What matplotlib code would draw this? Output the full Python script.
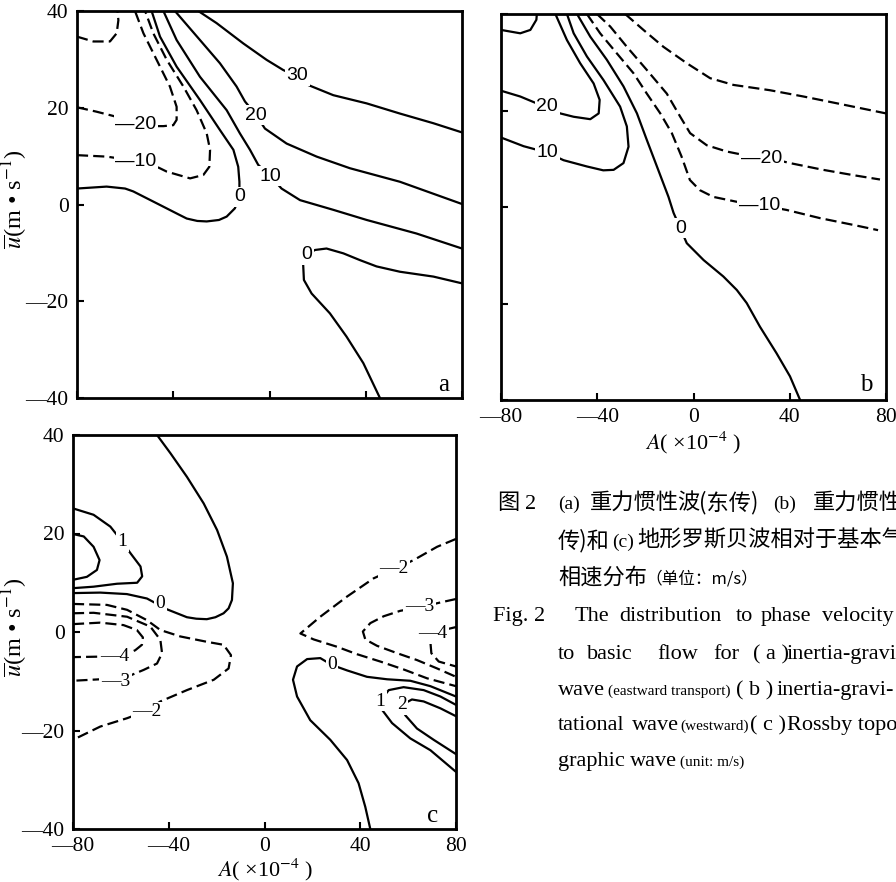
import matplotlib
matplotlib.use("Agg")
import matplotlib.pyplot as plt

W, H = 896, 882

# ---------------- data ----------------
A_TICKS = [-80, -40, 0, 40, 80]
U_TICKS = [-40, -20, 0, 20, 40]
A_TICKLABELS = ['—80', '—40', '0', '40', '80']
U_TICKLABELS = ['—40', '—20', '0', '20', '40']

# panel a : (A, u) points along each isoline
a_m30 = [(-80, 34.7), (-73.2, 33.7), (-66.3, 33.7), (-63.5, 35.4), (-62.8, 38.1), (-63.2, 40)]
a_m20 = [(-80, 20.1), (-72, 19.2), (-64.9, 18.3), (-58, 17.2), (-52.4, 16.6), (-47, 16.2),
         (-44.1, 16.2), (-40, 16.4), (-38.6, 17.5), (-38.6, 20.2), (-41.4, 24.4),
         (-46.9, 29.9), (-52.4, 35.4), (-55.9, 40)]
a_m10 = [(-80, 10.2), (-67.7, 9.9), (-58, 9.2), (-52.4, 8.6), (-46, 7.6), (-42.7, 6.8),
         (-33.0, 5.4), (-27.5, 6.1), (-25.0, 7.8), (-24.7, 11.3), (-26.1, 14.7),
         (-30.3, 19.5), (-35.8, 24.4), (-42.7, 29.9), (-48.3, 35.4), (-51.7, 40)]
a_0a = [(-80, 3.3), (-67.7, 3.7), (-60, 3.3), (-56.6, 2.7), (-45.5, -0.1), (-38, -2.0),
        (-34.4, -2.9), (-30, -3.4), (-26.1, -3.5), (-21, -3.2), (-17.8, -2.5), (-14.4, -0.8),
        (-12.5, 1.6), (-12.5, 4.7), (-13.0, 7.8), (-15.0, 11.3),
        (-20.6, 15.4), (-28.9, 21.6), (-38.6, 28.5), (-45.5, 34.7), (-49.0, 40)]
a_0b = [(80, -16.3), (68.1, -14.9), (54.2, -13.9), (44.5, -12.8), (37.6, -11.5), (30.7, -10.1),
        (23.7, -9.1), (18.9, -9.4), (15.4, -10.4), (14.0, -12.5), (14.3, -15.6), (17.5, -18.4),
        (25.1, -22.5), (32.0, -27.3), (39.0, -32.8), (45.9, -40)]
a_10 = [(-44.1, 40), (-38.6, 34.0), (-28.9, 26.4), (-17.8, 19.5), (-12.3, 14.7), (-8.1, 11.3),
        (-4.7, 8.2), (0.5, 5.8), (5.0, 3.3), (12.7, 0.9), (26.5, -1.1), (40.4, -3.2),
        (61.1, -6.0), (80, -9.1)]
a_20 = [(-39.3, 40), (-28.9, 34.0), (-20.6, 29.2), (-13.7, 24.4), (-10.2, 21.3), (-5.6, 18.5),
        (-1.9, 15.7), (7.1, 12.6), (19.6, 9.9), (33.4, 7.5), (54.2, 4.7), (80, 0.1)]
a_30 = [(-29.6, 40), (-22.0, 37.5), (-10.9, 33.3), (-1.2, 29.9), (5.7, 27.8), (12, 26.4),
        (16.1, 24.7), (26.5, 22.6), (40.4, 20.9), (54.2, 18.8), (68.1, 16.8), (80, 14.9)]
a_solid = [a_0a, a_0b, a_10, a_20, a_30]
a_dashed = [a_m10, a_m20, a_m30]
a_labels = [('30', 11.5, 26.6), ('20', -5.8, 18.5), ('10', 0.5, 5.8), ('0', -12.3, 1.6),
            ('0', 15.4, -10.4), ('—20', -55.6, 16.6), ('—10', -55.6, 8.9)]

# panel b
b_30 = [(-80, 36.7), (-72.0, 36.0), (-67.8, 36.7), (-65.3, 38.8), (-65.1, 40)]
b_20 = [(-80, 24.1), (-72.0, 22.9), (-61.9, 20.8), (-55.4, 19.4), (-49.8, 18.7), (-42.9, 18.2),
        (-39.4, 19.4), (-39.0, 22.2), (-41.5, 25.6), (-47.1, 29.8), (-52.6, 34.6), (-57.4, 40)]
b_10 = [(-80, 14.4), (-70.6, 12.6), (-60.9, 11.3), (-54.0, 9.7), (-44.3, 8.4), (-37.5, 7.6),
        (-33.2, 7.7), (-29.1, 9.1), (-27.0, 12.5), (-27.7, 16.7), (-30.5, 20.8), (-37.4, 26.3),
        (-44.3, 31.2), (-49.8, 36.0), (-52.6, 40)]
b_0 = [(-48.4, 40), (-42.9, 35.3), (-36.0, 30.5), (-29.1, 25.0), (-23.5, 19.4), (-19.4, 13.9),
       (-15.2, 8.4), (-10.4, 2.1), (-8.3, -1.2), (-5.5, -4.4), (-2.8, -7.5), (4.2, -11.0),
       (12.4, -14.4), (18.0, -17.2), (22.1, -19.9), (27.6, -24.8), (34.5, -30.3),
       (40.1, -35.1), (44.3, -40)]
b_m10 = [(-44.3, 40), (-38.8, 36.0), (-31.8, 31.8), (-24.9, 27.7), (-19.4, 23.5), (-13.8, 19.4),
         (-9.0, 15.3), (-5.0, 10.5), (-1.5, 5.6), (2.6, 3.5), (8.2, 2.1), (17.8, 1.1),
         (27.4, 0.4), (38.6, -0.6), (52.5, -2.3), (66.3, -3.7), (76.7, -4.8)]
b_m20 = [(-40.1, 40), (-34.6, 37.4), (-27.7, 33.2), (-19.4, 28.4), (-11.1, 23.5), (-5.5, 18.7),
         (-1.4, 15.3), (5.5, 12.8), (13.8, 11.5), (20.7, 10.8), (31.8, 10.1), (40.1, 9.1),
         (53.9, 7.7), (66.4, 6.6), (77.5, 5.7)]
b_m30 = [(-28.4, 40), (-20.8, 36.7), (-12.5, 33.2), (-2.8, 29.8), (6.9, 26.7), (16.6, 25.3),
         (31.8, 24.2), (45.7, 22.9), (59.5, 21.5), (80, 19.4)]
b_solid = [b_30, b_20, b_10, b_0]
b_dashed = [b_m10, b_m20, b_m30]
b_labels = [('20', -60.8, 20.8), ('10', -60.8, 11.3), ('0', -5.3, -4.4),
            ('—20', 28.4, 10.1), ('—10', 27.4, 0.4)]

# panel c
c_0a = [(-44.9, 40), (-39.3, 36.3), (-32.4, 31.5), (-25.4, 26.1), (-19.8, 20.7), (-15.7, 15.3),
        (-13.2, 9.9), (-13.6, 6.5), (-15.0, 4.8), (-17.1, 3.8), (-20.5, 3.0), (-24.1, 2.6),
        (-28.5, 2.7), (-32.4, 3.0), (-40.7, 4.6),
        (-49.1, 6.8), (-57.5, 7.7), (-68.6, 8.0), (-80, 7.9)]
c_1a = [(-80, 25.1), (-71.4, 23.8), (-64.4, 21.4), (-59.5, 18.4), (-56.0, 16.0), (-51.8, 13.3),
        (-51.1, 11.3), (-53.2, 10.0), (-61.6, 9.8), (-71.4, 9.2), (-80, 8.9)]
c_2a = [(-80, 19.9), (-75.5, 19.4), (-71.4, 17.3), (-68.9, 14.6), (-70.0, 12.6), (-74.2, 11.2),
        (-80, 10.6)]
c_m2a = [(-80, 5.7), (-65.8, 5.5), (-57.4, 4.5), (-49.1, 2.4), (-43.5, 0.4), (-35.2, -0.9),
         (-24.0, -2.0), (-17.1, -2.6), (-14.0, -4.7), (-15.0, -7.4), (-21.2, -9.7),
         (-32.4, -11.8), (-43.5, -14.1), (-49.1, -16.0), (-57.4, -17.5), (-68.6, -19.2),
         (-80, -21.9)]
c_m3a = [(-80, 3.8), (-71.4, 3.9), (-57.4, 3.1), (-47.7, 1.1), (-43.5, -1.6), (-42.8, -4.3),
         (-44.9, -6.4), (-50.5, -7.7), (-57.4, -9.1), (-62.3, -10.1), (-68.6, -9.6), (-80, -9.9)]
c_m4a = [(-80, 1.6), (-68.6, 1.9), (-58.9, 1.4), (-53.3, 0.4), (-50.8, -1.1), (-51.2, -2.6),
         (-54.0, -3.7), (-57.5, -4.5), (-60.2, -4.9), (-68.6, -5.0), (-80, -5.1)]
c_m2b = [(80, 18.9), (72.1, 17.3), (62.3, 14.6), (54.7, 12.9), (45.6, 10.9), (34.5, 7.2),
         (23.3, 3.1), (15.0, -0.3), (20.5, -1.5), (30.3, -3.0), (38.6, -4.5), (48.4, -6.0),
         (58.1, -7.6), (67.9, -9.4), (80, -11.0)]
c_m3b = [(80, 6.7), (73.5, 6.0), (65.8, 5.1), (56.7, 4.3), (49.8, 3.2), (44.2, 1.8),
         (41.1, 0.1), (42.1, -1.5), (47.0, -2.8), (55.4, -4.3), (63.7, -5.7), (72.1, -7.4),
         (80, -9.1)]
c_m4b = [(80, 1.0), (76.5, 0.6), (72.1, -0.3), (69.3, -2.0), (69.7, -4.3), (72.8, -6.0),
         (80, -7.0)]
c_0b = [(44.2, -40), (42.1, -35.5), (39.3, -30.7), (34.5, -26.0), (27.5, -21.9), (19.1, -17.9),
        (13.6, -13.1), (11.9, -9.7), (13.6, -7.0), (17.8, -5.5), (23.3, -5.3), (28.2, -6.7),
        (34.5, -7.8), (42.8, -9.1), (51.2, -9.6), (60.9, -9.9), (69.3, -11.0), (80, -13.1)]
c_1b = [(80, -14.8), (73.5, -13.1), (66.5, -11.8), (58.1, -11.2), (51.9, -11.8), (49.1, -13.5),
        (48.4, -14.2), (49.1, -15.8), (53.3, -18.5), (60.9, -21.6), (69.3, -24.0), (80, -28.4)]
c_2b = [(80, -17.1), (73.5, -15.5), (66.5, -14.1), (61.6, -13.7), (57.4, -14.8), (58.8, -16.9),
        (63.7, -19.6), (70.7, -21.9), (80, -24.8)]
c_solid = [c_0a, c_1a, c_2a, c_0b, c_1b, c_2b]
c_dashed = [c_m2a, c_m3a, c_m4a, c_m2b, c_m3b, c_m4b]
c_labels = [('1', -59.5, 18.3), ('0', -43.5, 5.8), ('—4', -62.7, -4.9), ('—3', -62.3, -10.1),
            ('—2', -49.1, -16.2), ('—2', 54.2, 12.9), ('—3', 64.7, 5.1), ('—4', 70.2, -0.3),
            ('0', 28.2, -6.7), ('1', 48.4, -14.1), ('2', 57.4, -14.8)]

# ---------------- styling ----------------
plt.rcParams['mathtext.fontset'] = 'stix'
plt.rcParams['axes.unicode_minus'] = False
SERIF = ['Liberation Serif', 'DejaVu Serif']
SANS = ['Liberation Sans', 'DejaVu Sans']
CJK = ['Noto Sans CJK SC', 'DejaVu Sans']

fig = plt.figure(figsize=(W / 100, H / 100), dpi=100)


def box(l, t, r, b):
    return [l / W, 1 - b / H, (r - l) / W, (b - t) / H]


def setup(ax, xlabels, ylabels):
    ax.set_xlim(-80, 80)
    ax.set_ylim(-40, 40)
    ax.set_xticks(A_TICKS)
    ax.set_yticks(U_TICKS)
    ax.set_xticklabels(A_TICKLABELS if xlabels else [''] * 5, family=SERIF, fontsize=15.5)
    ax.set_yticklabels(U_TICKLABELS if ylabels else [''] * 5, family=SERIF, fontsize=15.5)
    ax.tick_params(direction='in', length=5, width=1.5, pad=6,
                   labelbottom=xlabels, labelleft=ylabels)
    for s in ax.spines.values():
        s.set_linewidth(2.0)


def draw(ax, solid, dashed, labels, fam):
    for pts in solid:
        ax.plot([p[0] for p in pts], [p[1] for p in pts], color='black', lw=1.6,
                solid_capstyle='round', solid_joinstyle='round')
    for pts in dashed:
        ax.plot([p[0] for p in pts], [p[1] for p in pts], color='black', lw=1.6,
                ls=(0, (5, 2.3)), dash_capstyle='butt')
    for s, x, y in labels:
        ax.text(x, y, s, ha='center', va='center', fontsize=14, family=fam, zorder=5,
                bbox=dict(boxstyle='square,pad=0.08', fc='white', ec='none'))


ax_a = fig.add_axes(box(77, 11, 462, 398))
ax_b = fig.add_axes(box(501, 14, 886, 400))
ax_c = fig.add_axes(box(73, 435, 456, 829))

setup(ax_a, False, True)
setup(ax_b, True, False)
setup(ax_c, True, True)

draw(ax_a, a_solid, a_dashed, a_labels, SANS)
draw(ax_b, b_solid, b_dashed, b_labels, SANS)
draw(ax_c, c_solid, c_dashed, c_labels, SERIF)

for ax, letter, x, y in [(ax_a, 'a', 0.951, 0.034), (ax_b, 'b', 0.948, 0.038),
                         (ax_c, 'c', 0.94, 0.034)]:
    ax.text(x, y, letter, transform=ax.transAxes, ha='center', va='center',
            fontsize=18, family=SERIF)

ylab = r'$\overline{u}$(m • s$^{-1}$)'
xlab = r'$A$( ×10$^{-4}$ )'
fig.text(15 / W, 1 - 199 / H, ylab, rotation=90, ha='center', va='center',
         fontsize=17.5, family=SERIF)
fig.text(15 / W, 1 - 627 / H, ylab, rotation=90, ha='center', va='center',
         fontsize=17.5, family=SERIF)
fig.text(693 / W, 1 - 443 / H, xlab, ha='center', va='center', fontsize=16, family=SERIF)
fig.text(265 / W, 1 - 870 / H, xlab, ha='center', va='center', fontsize=16, family=SERIF)


# ---------------- caption ----------------
def ft(x, y, s, size, fam):
    fig.text(x / W, 1 - y / H, s, fontsize=size, family=fam, ha='left', va='baseline')


caption = [
    (509, [(497, '图', 16, CJK), (525, '2', 16, SERIF), (558, '(a)', 14, SERIF),
           (590, '重力惯性波', 16, CJK), (699, '(东传)', 16, CJK), (773, '(b)', 14, SERIF),
           (813, '重力惯性', 16, CJK)]),
    (547, [(558, '传)和', 16, CJK), (612, '(c)', 14, SERIF),
           (637, '地形罗斯贝波相对于基本气', 16, CJK)]),
    (584, [(558, '相速分布', 16, CJK), (645, '（单位：m/s）', 12, CJK)]),
    (621, [(493, 'Fig. 2', 16, SERIF), (575, 'The', 16, SERIF), (619, 'distribution', 16, SERIF),
           (736, 'to', 16, SERIF), (761, 'phase', 16, SERIF), (822, 'velocity', 16, SERIF)]),
    (659, [(558, 'to', 16, SERIF), (587, 'basic', 16, SERIF), (657, 'flow', 16, SERIF),
           (713, 'for', 16, SERIF), (753, '( a )', 16, SERIF), (787, 'inertia-gravi', 16, SERIF)]),
    (695, [(558, 'wave', 16, SERIF), (608, '(eastward transport)', 11, SERIF),
           (736, '( b )', 16, SERIF), (777, 'inertia-gravi-', 16, SERIF)]),
    (730, [(558, 'tational', 16, SERIF), (632, 'wave', 16, SERIF), (680, '(westward)', 11, SERIF),
           (750, '( c )', 16, SERIF), (787, 'Rossby topo-', 16, SERIF)]),
    (766, [(558, 'graphic', 16, SERIF), (630, 'wave', 16, SERIF), (680, '(unit: m/s)', 11, SERIF)]),
]
for yb, pieces in caption:
    for x, s, size, fam in pieces:
        ft(x, yb, s, size, fam)

fig.savefig('out.png', dpi=100)
